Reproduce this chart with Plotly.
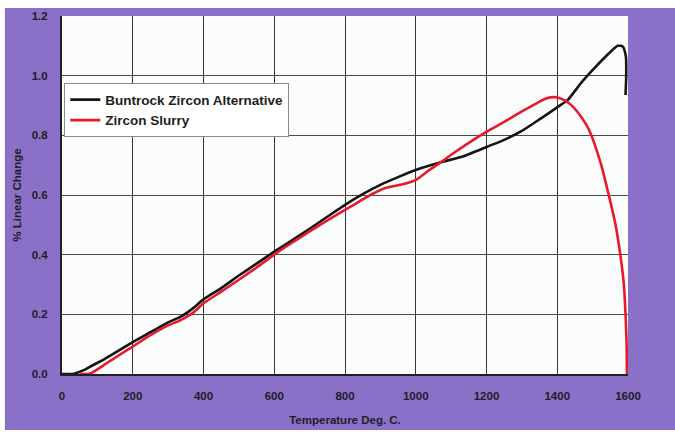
import plotly.graph_objects as go

# Buntrock Zircon Alternative
buntrock_temp = [0, 30, 60, 80, 120, 160, 200, 250, 300, 340, 370, 400, 450, 500, 550, 600,
                 650, 700, 750, 800, 850, 900, 950, 1000, 1071, 1130, 1202, 1250, 1300, 1354,
                 1410, 1430, 1467, 1505, 1542, 1571, 1585, 1594, 1595, 1593]
buntrock_change = [0.0, 0.0, 0.012, 0.025, 0.05, 0.078, 0.107, 0.14, 0.173, 0.195, 0.22, 0.25,
                   0.288, 0.33, 0.37, 0.41, 0.448, 0.487, 0.527, 0.567, 0.603, 0.634, 0.66,
                   0.684, 0.71, 0.728, 0.762, 0.785, 0.815, 0.857, 0.902, 0.919, 0.975, 1.025,
                   1.07, 1.10, 1.098, 1.064, 1.0, 0.935]

# Zircon Slurry
slurry_temp = [50, 80, 126, 160, 200, 250, 300, 334, 370, 400, 450, 500, 550, 600, 650, 700,
               750, 800, 850, 880, 910, 960, 1000, 1040, 1071, 1100, 1150, 1202, 1250, 1300,
               1344, 1370, 1393, 1420, 1439, 1467, 1490, 1523, 1545, 1564, 1578, 1588,
               1593, 1596, 1597]
slurry_change = [0.0, 0.002, 0.036, 0.062, 0.092, 0.13, 0.163, 0.18, 0.205, 0.237, 0.276,
                 0.316, 0.357, 0.40, 0.44, 0.478, 0.515, 0.55, 0.585, 0.605, 0.622, 0.635,
                 0.65, 0.685, 0.71, 0.735, 0.775, 0.813, 0.845, 0.88, 0.909, 0.924, 0.928,
                 0.918, 0.902, 0.863, 0.818, 0.706, 0.603, 0.505, 0.402, 0.304, 0.201,
                 0.103, 0.0]

x_ticks = [0, 200, 400, 600, 800, 1000, 1200, 1400, 1600]
y_ticks = [0.0, 0.2, 0.4, 0.6, 0.8, 1.0, 1.2]

PURPLE = "#8a70c6"
FONT = "Arial, Liberation Sans, sans-serif"

fig = go.Figure()
fig.add_trace(go.Scatter(x=buntrock_temp, y=buntrock_change, mode="lines",
                         name="Buntrock Zircon Alternative",
                         line=dict(color="#151515", width=2.6, shape="spline", smoothing=0.6)))
fig.add_trace(go.Scatter(x=slurry_temp, y=slurry_change, mode="lines",
                         name="Zircon Slurry",
                         line=dict(color="#e8192c", width=2.6, shape="spline", smoothing=0.6)))

fig.update_layout(
    width=675, height=432,
    margin=dict(l=62, r=47, t=16, b=58),
    paper_bgcolor=PURPLE,
    plot_bgcolor="#fbfdfd",
    font=dict(family=FONT, color="#1e1e28"),
    showlegend=True,
    legend=dict(x=0.004, y=0.812, xanchor="left", yanchor="top",
                bgcolor="white", bordercolor="#8a8a8a", borderwidth=1,
                font=dict(size=13.5, family=FONT, color="#1e1e1e", weight="bold"),
                itemwidth=30, tracegroupgap=0),
    xaxis=dict(range=[0, 1600], tickvals=x_ticks, ticktext=[str(v) for v in x_ticks],
               showgrid=True, gridcolor="#363636", gridwidth=1.4,
               showline=True, linecolor="#202020", linewidth=2,
               zeroline=False, ticks="", ticklabelstandoff=10, automargin=False,
               tickfont=dict(size=11.5, family=FONT, color="#1e1e28", weight="bold"),
               title=dict(text="Temperature Deg. C.", standoff=15,
                          font=dict(size=11.5, family=FONT, color="#1e1e28", weight="bold"))),
    yaxis=dict(range=[0, 1.2], tickvals=y_ticks, ticktext=[f"{v:.1f}" for v in y_ticks],
               showgrid=True, gridcolor="#4c4d36", gridwidth=1.4,
               showline=True, linecolor="#202020", linewidth=2,
               zeroline=False, ticks="", ticklabelstandoff=10, automargin=False,
               tickfont=dict(size=11.5, family=FONT, color="#1e1e28", weight="bold"),
               title=dict(text="% Linear Change", standoff=8,
                          font=dict(size=11.5, family=FONT, color="#1e1e28", weight="bold"))),
    shapes=[
        dict(type="rect", xref="paper", yref="paper", x0=-0.12, x1=1.1, y0=1.0223, y1=1.07,
             fillcolor="white", line=dict(width=0), layer="above"),
        dict(type="rect", xref="paper", yref="paper", x0=-0.12, x1=-0.1009, y0=-0.2, y1=1.07,
             fillcolor="white", line=dict(width=0), layer="above"),
        dict(type="rect", xref="paper", yref="paper", x0=-0.12, x1=1.1, y0=-0.2, y1=-0.1564,
             fillcolor="white", line=dict(width=0), layer="above"),
    ],
)

fig.write_html("out.html")
